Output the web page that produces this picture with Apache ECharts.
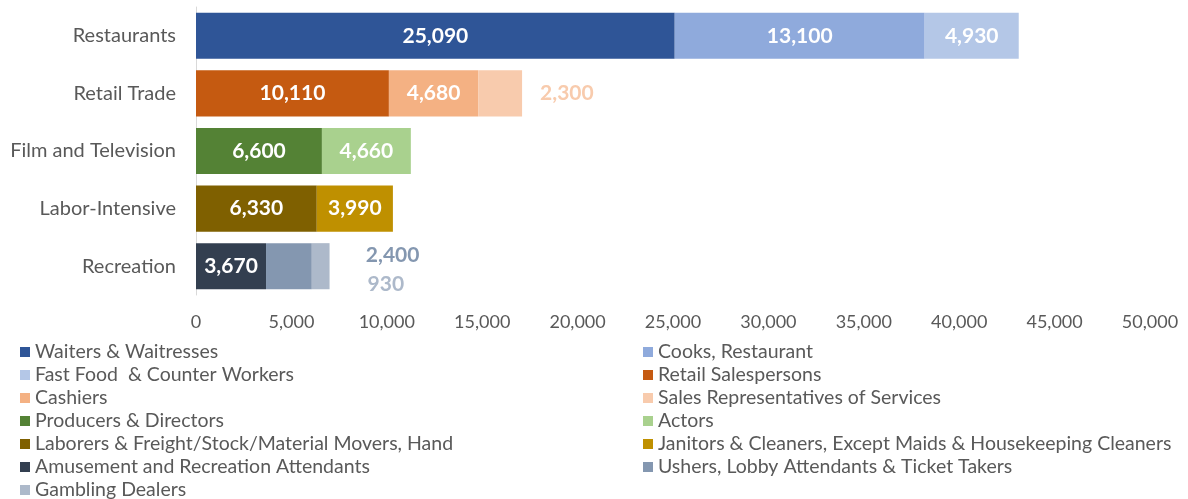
<!DOCTYPE html>
<html>
<head>
<meta charset="utf-8">
<script src="https://cdn.jsdelivr.net/npm/echarts@6/dist/echarts.min.js"></script>
<style>
  html, body { margin: 0; padding: 0; background: #fff; }
  #chart { width: 1188px; height: 499px; }
</style>
</head>
<body>
<div id="chart"></div>
<script>
// industries, top to bottom
const categories = ['Restaurants', 'Retail Trade', 'Film and Television', 'Labor-Intensive', 'Recreation'];

// occupations in legend order, with the industry row each one sits in
const occupations = [
  'Waiters & Waitresses',
  'Cooks, Restaurant',
  'Fast Food  & Counter Workers',
  'Retail Salespersons',
  'Cashiers',
  'Sales Representatives of Services',
  'Producers & Directors',
  'Actors',
  'Laborers & Freight/Stock/Material Movers, Hand',
  'Janitors & Cleaners, Except Maids & Housekeeping Cleaners',
  'Amusement and Recreation Attendants',
  'Ushers, Lobby Attendants & Ticket Takers',
  'Gambling Dealers'
];
const industryOf = [0, 0, 0, 1, 1, 1, 2, 2, 3, 3, 4, 4, 4];
const workers = [25090, 13100, 4930, 10110, 4680, 2300, 6600, 4660, 6330, 3990, 3670, 2400, 930];

const xMin = 0;
const xMax = 50000;
const xStep = 5000;

const colors = ['#2F5597', '#8FAADC', '#B4C7E7', '#C55A11', '#F4B183', '#F8CBAD',
  '#548235', '#A9D18E', '#7F6000', '#BF9000', '#333F50', '#8497B0', '#ADB9CA'];

const font = 'Lato';
const grey = '#595959';

// small segments get their label outside the bar
const outside = {
  5: { distance: 18, offset: [0, 0] },
  11: { distance: 54, offset: [0, -11] },
  12: { distance: 38, offset: [0, 18] }
};

function fmt(v) {
  return Number(v).toLocaleString('en-US');
}

let series = occupations.map(function (name, i) {
  let label = {
    show: true,
    position: 'inside',
    color: '#fff',
    fontFamily: font,
    fontWeight: 'bold',
    fontSize: 21,
    formatter: function (p) { return fmt(p.value); }
  };
  if (outside[i]) {
    label.position = 'right';
    label.distance = outside[i].distance;
    label.offset = outside[i].offset;
    label.color = colors[i];
  }
  return {
    name: name,
    type: 'bar',
    stack: 'total',
    barWidth: '80%',
    itemStyle: { color: colors[i] },
    label: label,
    data: categories.map(function (c, j) { return j === industryOf[i] ? workers[i] : '-'; })
  };
});

let legendText = { color: grey, fontFamily: font, fontSize: 19.5, lineHeight: 20 };

let myChart = echarts.init(document.getElementById('chart'));
let option = {
  animation: false,
  grid: { left: 196, right: 38, top: 7, bottom: 204 },
  legend: [
    {
      data: occupations.filter(function (n, i) { return i % 2 === 0; }),
      orient: 'vertical',
      left: 20, top: 342, height: 180, padding: 0,
      itemWidth: 10, itemHeight: 10, itemGap: 3,
      icon: 'rect',
      textStyle: legendText
    },
    {
      data: occupations.filter(function (n, i) { return i % 2 === 1; }),
      orient: 'vertical',
      left: 643, top: 342, height: 180, padding: 0,
      itemWidth: 10, itemHeight: 10, itemGap: 3,
      icon: 'rect',
      textStyle: legendText
    }
  ],
  xAxis: {
    type: 'value',
    min: xMin, max: xMax, interval: xStep,
    axisLine: { show: false },
    axisTick: { show: false },
    splitLine: { show: false },
    axisLabel: {
      color: grey, fontFamily: font, fontSize: 18, margin: 18,
      formatter: function (v) { return fmt(v); }
    }
  },
  yAxis: {
    type: 'category',
    inverse: true,
    data: categories,
    axisLine: { show: true, lineStyle: { color: '#D9D9D9', width: 1 } },
    axisTick: { show: false },
    axisLabel: { color: grey, fontFamily: font, fontSize: 20, margin: 20 }
  },
  series: series
};
myChart.setOption(option);
</script>
</body>
</html>
